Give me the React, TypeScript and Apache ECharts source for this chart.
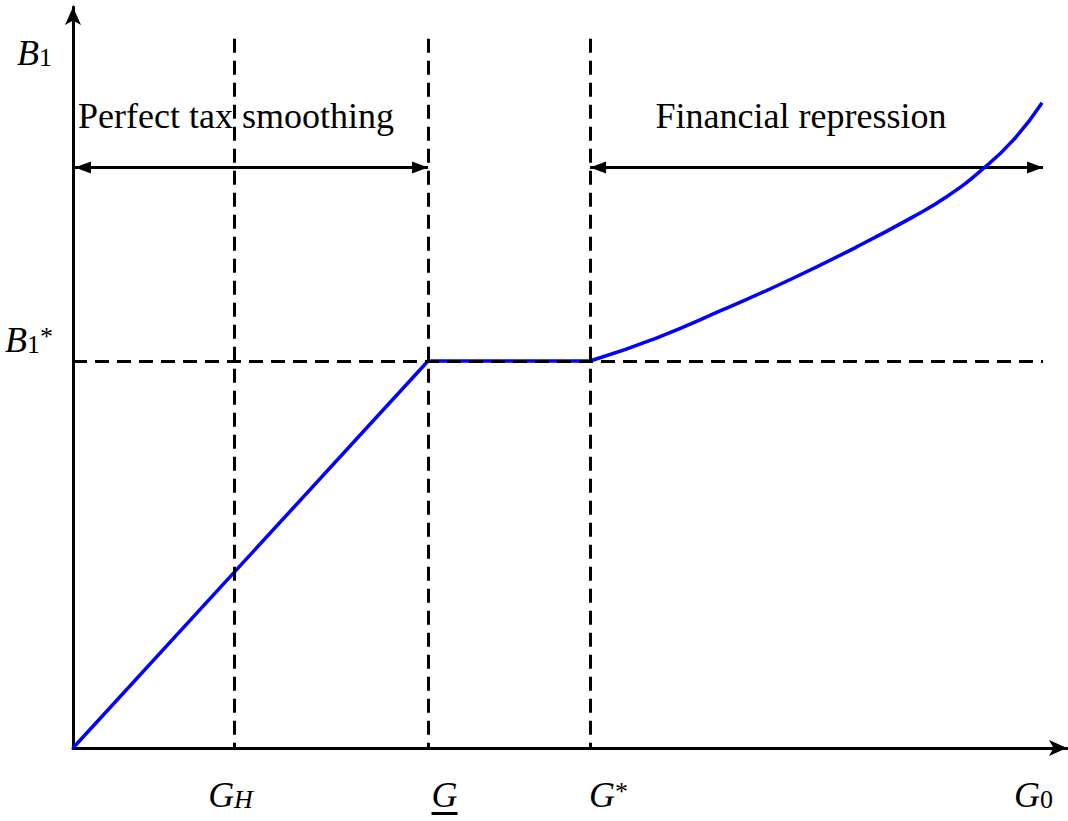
import React, { useEffect, useRef } from "react";
import * as echarts from "echarts";

// ---- data (abstract units: G on x, B1 on y) ----
const X_TICK_VALUES = [1.66, 3.66, 5.33, 10];
const X_TICK_LABELS = ["{g|G}{subI|H}", "{g|G}\n{ul| }", "{g|G}{star|*}", "{g|G}{subN|0}"];
const Y_TICK_VALUES = [4];
const Y_TICK_LABELS = ["{g|B}{subS|1}{starS|*}"];
const Y_AXIS_NAME = "{g|B}{subB|1}";

const LINEAR_PART = [
  [0, 0],
  [3.66, 4],
  [5.33, 4],
];
const REPRESSION_CURVE = [
  [5.33, 4.0],
  [6.02, 4.24],
  [6.7, 4.53],
  [7.39, 4.84],
  [8.08, 5.18],
  [8.66, 5.49],
  [9.01, 5.7],
  [9.35, 5.96],
  [9.69, 6.28],
  [9.99, 6.67],
];

const REGION_NAMES = ["Perfect tax smoothing", "Financial repression"];
const REGION_FROM = [0.02, 5.33];
const REGION_TO = [3.66, 10];
const REGION_LEVEL = 6.0;

const DASH_X = [1.66, 3.66, 5.33];
const DASH_TOP = 7.33;
const B1_STAR = 4;
const G_0 = 10;

const X_MAX = 10.247;
const Y_MAX = 7.659;

// ---- layout ----
const PX_PER_X = 97;
const PX_PER_Y = 96.75;
const X_LABEL_SHIFT_PX = [-3.5, 16.5, 18.5, -9.5];
const Y_LABEL_SHIFT_PX = [21];

const SERIF = "'Liberation Serif', 'Times New Roman', serif";
const BLUE = "#0000ff";

const rich: any = {
  g: { fontFamily: SERIF, fontStyle: "italic", fontSize: 36, lineHeight: 34, color: "#000" },
  subI: { fontFamily: SERIF, fontStyle: "italic", fontSize: 26, lineHeight: 14, verticalAlign: "bottom", color: "#000" },
  subN: { fontFamily: SERIF, fontSize: 26, lineHeight: 14, verticalAlign: "bottom", color: "#000" },
  subB: { fontFamily: SERIF, fontSize: 26, lineHeight: 13, verticalAlign: "bottom", color: "#000" },
  subS: { fontFamily: SERIF, fontSize: 26, lineHeight: 7, verticalAlign: "bottom", color: "#000" },
  star: { fontFamily: SERIF, fontSize: 26, lineHeight: 28, verticalAlign: "top", color: "#000" },
  starS: { fontFamily: SERIF, fontSize: 26, lineHeight: 28, verticalAlign: "top", color: "#000" },
  ul: { width: 26, height: 3, lineHeight: 3, fontSize: 2, backgroundColor: "#000", color: "#000" },
};

function buildOption(): any {
  const xLabelPos = X_TICK_VALUES.map((v, i) => v + X_LABEL_SHIFT_PX[i] / PX_PER_X);
  const yLabelPos = Y_TICK_VALUES.map((v, i) => v + Y_LABEL_SHIFT_PX[i] / PX_PER_Y);
  const pick = (positions: number[], labels: string[], value: number) => {
    let best = 0;
    positions.forEach((p, i) => {
      if (Math.abs(p - value) < Math.abs(positions[best] - value)) best = i;
    });
    return labels[best];
  };

  const axisLine = {
    show: true,
    onZero: false,
    symbol: ["none", "arrow"],
    symbolSize: [12, 18],
    lineStyle: { color: "#000", width: 3 },
  };

  const dashData: any[] = DASH_X.map((x) => [{ coord: [x, DASH_TOP] }, { coord: [x, 0] }]);
  dashData.push([{ coord: [0, B1_STAR] }, { coord: [G_0, B1_STAR] }]);

  const arrowEnd = { symbol: "triangle", symbolSize: [12, 16], symbolOffset: [0, 8] };
  const regionData = REGION_NAMES.map((name, i) => [
    { name, coord: [REGION_FROM[i], REGION_LEVEL], ...arrowEnd },
    { coord: [REGION_TO[i], REGION_LEVEL], ...arrowEnd },
  ]);

  return {
    animation: false,
    backgroundColor: "#fff",
    grid: { left: 73, top: 7, width: 994, height: 741, containLabel: false, outerBoundsMode: "none" },
    xAxis: {
      type: "value",
      min: 0,
      max: X_MAX,
      axisLine,
      axisTick: { show: false },
      splitLine: { show: false },
      axisLabel: {
        show: true,
        customValues: xLabelPos,
        margin: 30,
        formatter: (v: number) => pick(xLabelPos, X_TICK_LABELS, v),
        rich,
      },
    },
    yAxis: {
      type: "value",
      min: 0,
      max: Y_MAX,
      axisLine,
      axisTick: { show: false },
      splitLine: { show: false },
      name: Y_AXIS_NAME,
      nameLocation: "end",
      nameGap: -46,
      nameTextStyle: { align: "right", verticalAlign: "middle", padding: [0, 21, 0, 0], rich },
      axisLabel: {
        show: true,
        customValues: yLabelPos,
        margin: 20,
        formatter: (v: number) => pick(yLabelPos, Y_TICK_LABELS, v),
        rich,
      },
    },
    series: [
      {
        type: "line",
        data: [],
        silent: true,
        markLine: {
          z: 1,
          silent: true,
          animation: false,
          symbol: ["triangle", "triangle"],
          symbolSize: 16,
          lineStyle: { color: "#000", width: 3, type: "solid" },
          emphasis: { disabled: true },
          label: {
            show: true,
            position: "middle",
            formatter: "{b}",
            distance: 32,
            padding: [0, 31, 0, 0],
            fontFamily: SERIF,
            fontSize: 36,
            lineHeight: 40,
            color: "#000",
          },
          data: regionData,
        },
      },
      {
        type: "line",
        data: LINEAR_PART,
        z: 3,
        silent: true,
        symbol: "none",
        lineStyle: { color: BLUE, width: 3.5 },
      },
      {
        type: "line",
        data: REPRESSION_CURVE,
        z: 3,
        silent: true,
        smooth: 0.5,
        symbol: "none",
        lineStyle: { color: BLUE, width: 3.5 },
      },
      {
        type: "line",
        data: [],
        silent: true,
        markLine: {
          z: 5,
          silent: true,
          animation: false,
          symbol: ["none", "none"],
          lineStyle: { color: "#000", width: 3, type: [14, 8] },
          emphasis: { disabled: true },
          label: { show: false },
          data: dashData,
        },
      },
    ],
  };
}

export default function App() {
  const ref = useRef<HTMLDivElement>(null);
  useEffect(() => {
    const chart = echarts.init(ref.current!, null, { renderer: "svg" });
    chart.setOption(buildOption());
    return () => chart.dispose();
  }, []);
  return (
    <div
      ref={ref}
      style={{ position: "absolute", left: 0, top: 0, width: 1068, height: 821 }}
    />
  );
}
